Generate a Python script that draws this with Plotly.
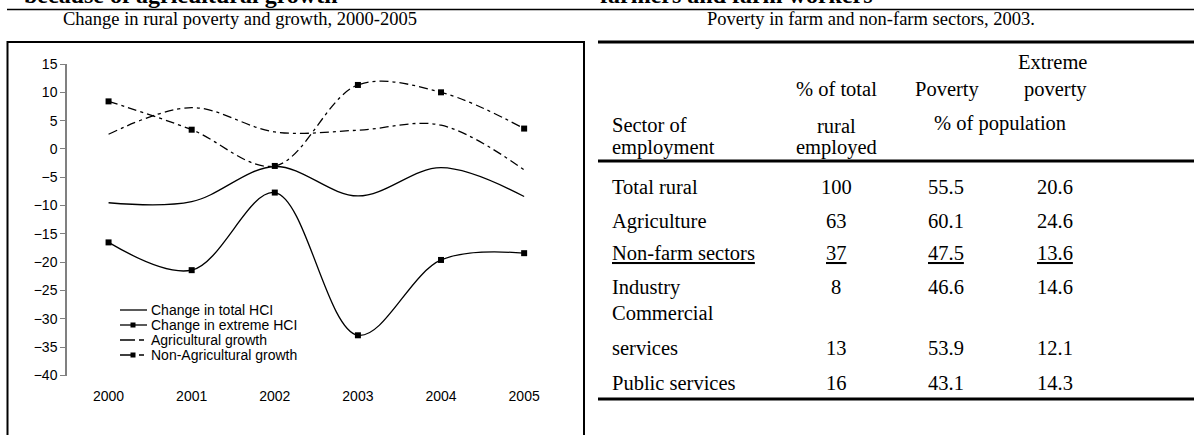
import plotly.graph_objects as go

W, H = 1194, 435

# ---------------- data ----------------
years = ["2000", "2001", "2002", "2003", "2004", "2005"]
total_hci = [-9.5, -9.3, -3.1, -8.3, -3.3, -8.4]
extreme_hci = [-16.5, -21.4, -7.7, -32.9, -19.6, -18.4]
agri_growth = [2.6, 7.3, 3.0, 3.3, 4.2, -3.7]
nonagri_growth = [8.4, 3.4, -3.0, 11.3, 10.0, 3.6]
y_ticks = [15, 10, 5, 0, -5, -10, -15, -20, -25, -30, -35, -40]

series_names = ["Change in total HCI", "Change in extreme HCI",
                "Agricultural growth", "Non-Agricultural growth"]

sector_lines = [["Total rural"], ["Agriculture"], ["Non-farm sectors"], ["Industry"],
                ["Commercial", "services"], ["Public services"]]
share_employed = ["100", "63", "37", "8", "13", "16"]
poverty = ["55.5", "60.1", "47.5", "46.6", "53.9", "43.1"]
extreme_poverty = ["20.6", "24.6", "13.6", "14.6", "12.1", "14.3"]
underlined_rows = [2]

chart_title = "Change in rural poverty and growth, 2000-2005"
table_title = "Poverty in farm and non-farm sectors, 2003."
head_left = "because of agricultural growth"
head_right = "farmers and farm workers"

# ---------------- helpers ----------------
def px(x):
    return x / W

def py(y):
    return 1 - y / H

SANS = "Liberation Sans, Arial, sans-serif"
SERIF = "Liberation Serif, Times New Roman, serif"
GRAY = "#808080"
DASHDOT = "9px,4px,3px,4px"

fig = go.Figure()

styles = [
    dict(mode="lines", dash="solid"),
    dict(mode="lines+markers", dash="solid"),
    dict(mode="lines", dash=DASHDOT),
    dict(mode="lines+markers", dash=DASHDOT),
]
for name, vals, st in zip(series_names, [total_hci, extreme_hci, agri_growth, nonagri_growth], styles):
    fig.add_trace(go.Scatter(
        x=years, y=vals, name=name, mode=st["mode"],
        line=dict(color="black", width=1.3, dash=st["dash"], shape="spline", smoothing=1.0),
        marker=dict(symbol="square", size=6, color="black"),
        showlegend=False, cliponaxis=False,
    ))

# plot area
x_dom = [px(67), px(565.7)]
y_dom = [py(375.5), py(64)]
ymin, ymax = -40, 15
zero_pos = y_dom[0] + (0 - ymin) / (ymax - ymin) * (y_dom[1] - y_dom[0])

fig.update_layout(
    width=W, height=H,
    margin=dict(l=0, r=0, t=0, b=0, autoexpand=False),
    paper_bgcolor="white", plot_bgcolor="white",
    showlegend=False,
    xaxis=dict(domain=x_dom, type="category", range=[-0.5, 5.5], showline=False,
               ticks="", showgrid=False, zeroline=False,
               tickfont=dict(family=SANS, size=14, color="black"),
               ticklabelstandoff=10),
    xaxis2=dict(overlaying="x", anchor="free", position=zero_pos, range=[-0.5, 5.5],
                tickmode="linear", tick0=-0.5, dtick=1, ticks="outside", ticklen=5,
                tickcolor=GRAY, showline=True, linecolor=GRAY, linewidth=1.5,
                showticklabels=False, showgrid=False, zeroline=False),
    yaxis=dict(domain=y_dom, range=[ymin, ymax], tickmode="array", tickvals=y_ticks,
               ticks="outside", ticklen=5, tickcolor=GRAY, showline=True, linecolor=GRAY,
               linewidth=1.5, showgrid=False, zeroline=False,
               tickfont=dict(family=SANS, size=14, color="black")),
)

shapes = []
annotations = []

def hline(x0, x1, y, w, color="black"):
    shapes.append(dict(type="line", xref="paper", yref="paper", x0=px(x0), x1=px(x1),
                       y0=py(y), y1=py(y), line=dict(color=color, width=w)))

def vline(x, y0, y1, w, color="black"):
    shapes.append(dict(type="line", xref="paper", yref="paper", x0=px(x), x1=px(x),
                       y0=py(y0), y1=py(y1), line=dict(color=color, width=w)))

def text(s, x, y, size, family, xanchor="center", bold=False):
    annotations.append(dict(text=("<b>%s</b>" % s) if bold else s, xref="paper", yref="paper",
                            x=px(x), y=py(y), xanchor=xanchor, yanchor="middle",
                            showarrow=False, font=dict(family=family, size=size, color="black")))

# page headings (cut at the top edge, as in the original page crop)
text(head_left, 22, -5, 24, SERIF, xanchor="left", bold=True)
text(head_right, 598, -5, 24, SERIF, xanchor="left", bold=True)
hline(7, 1194, 9.5, 1.5)

# titles
text(chart_title, 240, 19, 18.5, SERIF)
text(table_title, 871, 19, 18.5, SERIF)

# chart frame
hline(7, 585, 42, 2)
vline(7.5, 41, 435, 2)
vline(584, 41, 435, 2)

# manual legend (compact like the original)
leg_y = [310, 325, 340, 355]
leg_dash = ["solid", "solid", "15px,4px,5px,4px", "15px,4px,5px,4px"]
leg_mark = [False, True, False, True]
for name, yy, dsh, mk in zip(series_names, leg_y, leg_dash, leg_mark):
    shapes.append(dict(type="line", xref="paper", yref="paper", x0=px(120), x1=px(147),
                       y0=py(yy), y1=py(yy), line=dict(color="black", width=1.3, dash=dsh)))
    if mk:
        shapes.append(dict(type="rect", xref="paper", yref="paper", xsizemode="pixel",
                           ysizemode="pixel", xanchor=px(133), yanchor=py(yy),
                           x0=-2.5, x1=2.5, y0=-2.5, y1=2.5, fillcolor="black",
                           line=dict(width=0)))
    text(name, 149, yy, 14, SANS, xanchor="left")

# table rules
hline(598, 1194, 42, 3)
hline(598, 1194, 161, 3)
hline(598, 1194, 399, 3)

TS = 20.5
col_x = [610, 836, 946, 1055]
# header
text("Extreme", 1089, 62, TS, SERIF, xanchor="right")
text("% of total", col_x[1], 89, TS, SERIF)
text("Poverty", 947, 89, TS, SERIF)
text("poverty", 1089, 89, TS, SERIF, xanchor="right")
text("Sector of", col_x[0], 125, TS, SERIF, xanchor="left")
text("rural", col_x[1], 126, TS, SERIF)
text("% of population", 1000, 123, TS, SERIF)
text("employment", col_x[0], 147, TS, SERIF, xanchor="left")
text("employed", col_x[1], 148, TS, SERIF)

# body
row_y = [187, 221, 253, 287, 348, 383]
line_gap = 35
for i, (lab, a, b, c, yy) in enumerate(zip(sector_lines, share_employed, poverty, extreme_poverty, row_y)):
    u = i in underlined_rows
    wrap = (lambda s: "<u>%s</u>" % s) if u else (lambda s: s)
    for k, part in enumerate(lab):
        text(wrap(part), col_x[0], yy - (len(lab) - 1 - k) * line_gap, TS, SERIF, xanchor="left")
    text(wrap(a), col_x[1], yy, TS, SERIF)
    text(wrap(b), col_x[2], yy, TS, SERIF)
    text(wrap(c), col_x[3], yy, TS, SERIF)

fig.update_layout(shapes=shapes, annotations=annotations)

fig.write_html("out.html",
               config={"displayModeBar": False},
               post_script="document.body.style.margin='0';document.body.style.padding='0';"
                           "document.body.style.overflow='hidden';")
